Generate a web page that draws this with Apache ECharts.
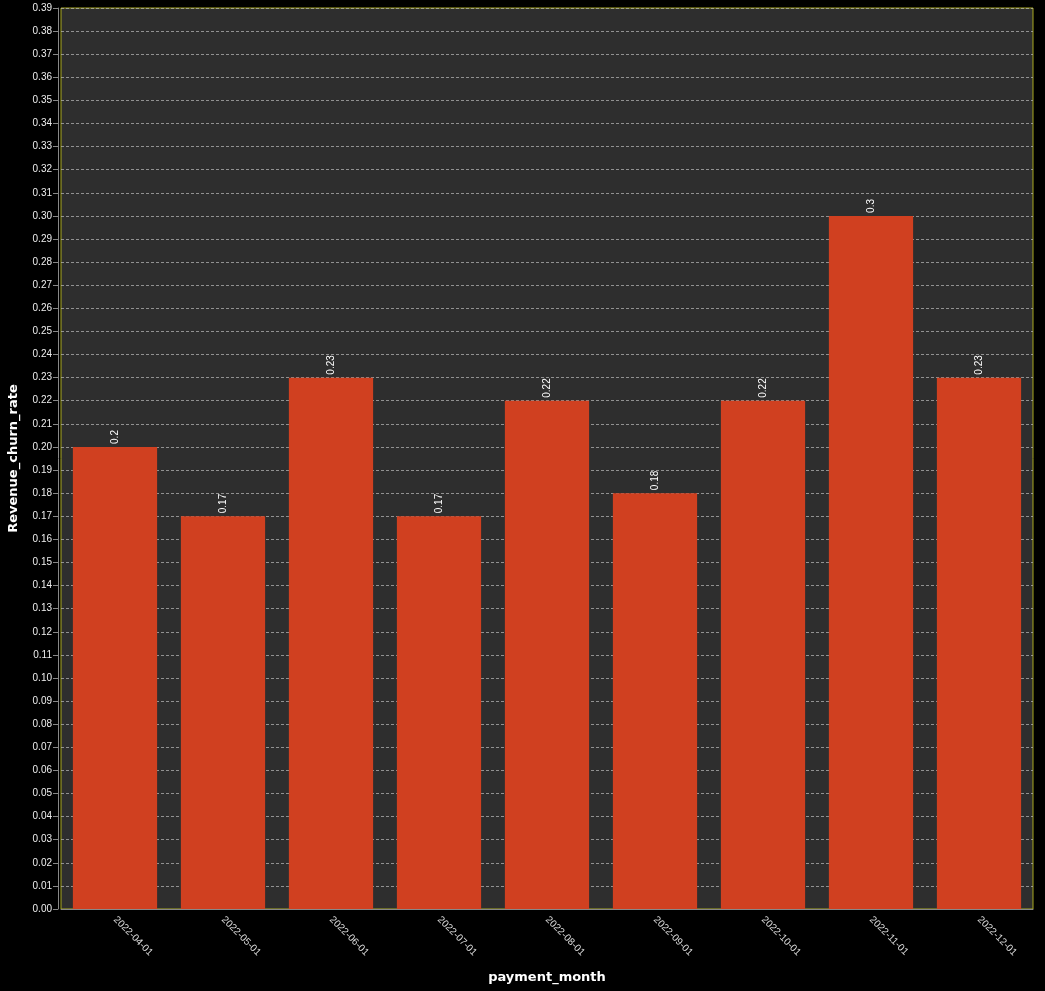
<!DOCTYPE html>
<html>
<head>
<meta charset="utf-8">
<script src="https://cdn.jsdelivr.net/npm/echarts@6/dist/echarts.min.js"></script>
<style>
html,body{margin:0;padding:0;background:#000;}
#main{width:1045px;height:991px;}
</style>
</head>
<body>
<div id="main"></div>
<script>
var months = ["2022-04-01","2022-05-01","2022-06-01","2022-07-01","2022-08-01","2022-09-01","2022-10-01","2022-11-01","2022-12-01"];
var churnRate = [0.2, 0.17, 0.23, 0.17, 0.22, 0.18, 0.22, 0.3, 0.23];

var myChart = echarts.init(document.getElementById('main'));

var option = {
    backgroundColor: '#000',
    textStyle: { fontFamily: 'Liberation Sans' },
    grid: {
        left: 61, right: 12, top: 8, bottom: 82,
        containLabel: false,
        outerBoundsMode: 'none',
        show: true,
        backgroundColor: '#2e2e2e',
        borderColor: '#a8a820',
        borderWidth: 1
    },
    xAxis: {
        type: 'category',
        data: months,
        offset: 3,
        name: 'payment_month',
        nameLocation: 'middle',
        nameGap: 59,
        nameTextStyle: { color: '#fff', fontSize: 13, fontWeight: 'bold', fontFamily: 'DejaVu Sans' },
        axisLine: { lineStyle: { color: '#888' } },
        axisTick: { alignWithLabel: true, lineStyle: { color: '#888' } },
        axisLabel: { rotate: -45, color: '#ddd', fontSize: 10, margin: 6 }
    },
    yAxis: {
        type: 'value',
        min: 0,
        max: 0.39,
        interval: 0.01,
        offset: 3,
        name: 'Revenue_churn_rate',
        nameLocation: 'middle',
        nameGap: 38,
        nameTextStyle: { color: '#fff', fontSize: 13, fontWeight: 'bold', fontFamily: 'DejaVu Sans' },
        axisLine: { show: true, lineStyle: { color: '#888' } },
        axisTick: { show: true, lineStyle: { color: '#888' } },
        axisLabel: {
            color: '#eee', fontSize: 10, margin: 6,
            formatter: function (v) { return v.toFixed(2); }
        },
        splitLine: { lineStyle: { color: '#bbb', type: [3, 2], width: 0.7 } }
    },
    series: [{
        type: 'bar',
        data: churnRate,
        barWidth: '78%',
        itemStyle: { color: '#d04020' },
        label: {
            show: true,
            position: 'top',
            rotate: 90,
            align: 'left',
            verticalAlign: 'middle',
            distance: 3,
            color: '#fff',
            fontSize: 10
        }
    }]
};

myChart.setOption(option);
</script>
</body>
</html>
